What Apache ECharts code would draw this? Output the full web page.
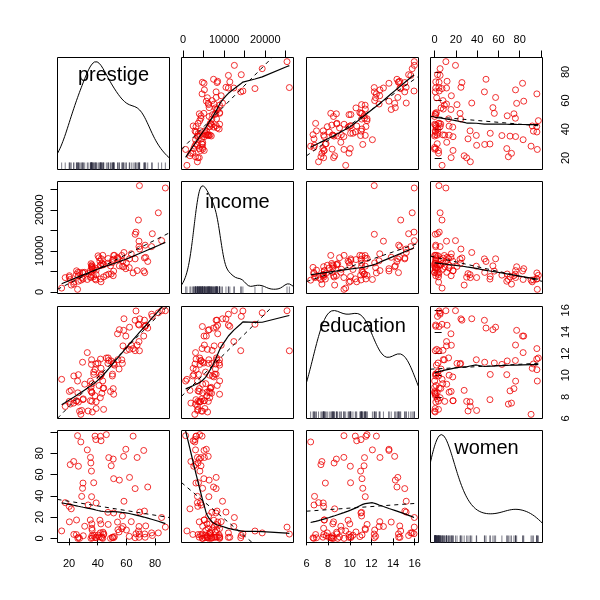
<!DOCTYPE html>
<html><head><meta charset="utf-8">
<script src="https://cdn.jsdelivr.net/npm/echarts@6/dist/echarts.min.js"></script>
<style>html,body{margin:0;padding:0;background:#fff}#c{width:600px;height:600px}</style>
</head><body><div id="c"></div>
<script>
// ---------------- data (Prestige, 102 occupations) ----------------
const varNames = ['prestige', 'income', 'education', 'women'];
const prestige = [68.8,69.1,63.4,56.8,73.5,77.6,72.6,78.1,73.1,68.8,62.0,60.0,53.8,62.2,74.9,55.1,82.3,58.1,58.3,72.8,84.6,59.6,66.1,87.2,66.7,68.4,64.7,34.9,72.1,69.3,67.5,57.2,57.6,54.1,46.0,41.9,49.4,42.3,47.7,30.9,32.7,38.7,36.1,37.2,38.1,29.4,51.1,35.7,35.6,41.5,40.2,26.5,14.8,23.3,47.3,47.1,51.1,43.5,51.6,29.7,20.2,54.9,25.9,20.8,17.3,20.1,44.1,21.5,35.3,38.9,25.2,34.8,23.2,33.3,28.8,42.5,44.2,35.9,41.8,35.9,43.7,50.8,37.2,28.2,38.1,50.3,27.3,40.9,50.2,51.1,38.9,36.2,29.9,42.9,26.5,66.1,48.9,35.9,25.1,26.1,42.2,35.2];
const income = [12351,25879,9271,8865,8403,11030,8258,14163,11377,11023,5902,7059,8425,8049,7405,6336,19263,6112,9593,4686,12480,5648,8034,25308,14558,17498,4614,3485,5092,10432,5180,6197,7562,8206,4036,3148,4348,2448,4330,4761,3016,2901,5511,3739,3161,4741,5052,6259,4075,7482,8780,2594,918,2370,8131,6992,7956,8895,8891,3116,3930,7869,611,3000,3472,3582,3643,1656,6860,4199,5134,5134,1890,4443,3485,8043,6686,6565,6477,5811,6573,3942,5449,2847,5795,7716,4696,8316,7147,8880,5299,5959,4549,6928,3910,14032,6337,6135,4224,4753,6462,3617];
const education = [13.11,12.26,12.77,11.42,14.62,15.64,15.09,15.44,14.52,14.64,12.39,12.30,13.83,14.44,14.36,14.21,15.77,14.15,15.22,14.50,15.97,13.62,15.08,15.96,15.94,14.71,12.46,9.45,13.62,15.21,12.79,11.09,12.71,11.44,11.59,11.49,11.32,10.64,11.36,9.17,12.09,11.04,9.22,10.07,10.51,11.20,11.13,11.43,11.00,9.84,11.13,10.05,9.62,9.93,11.60,11.09,11.03,9.47,10.93,7.74,8.50,10.57,9.46,7.33,7.11,7.58,6.84,8.60,8.88,7.54,7.64,7.64,7.42,6.69,6.74,10.09,8.81,8.40,7.92,8.43,8.78,8.76,10.29,6.38,8.10,10.10,6.67,9.05,9.93,8.24,6.92,6.60,7.81,8.33,7.52,12.27,8.49,7.58,7.60,8.37,10.00,8.55];
const women = [11.16,4.02,15.70,9.11,11.68,5.13,25.65,2.69,1.03,0.94,1.91,7.83,15.33,57.31,48.28,54.77,5.13,77.10,34.89,4.14,19.59,83.78,46.80,10.56,4.32,6.91,96.12,76.14,82.66,24.71,76.04,21.03,11.15,8.13,97.51,95.97,68.24,91.76,75.92,11.37,83.19,92.86,7.62,52.27,96.14,47.06,56.10,39.17,63.23,17.04,3.16,67.82,7.00,3.69,13.09,24.44,23.88,0.00,1.65,52.00,15.51,6.01,96.53,69.31,33.57,30.08,3.60,27.75,0.00,33.30,17.26,17.26,72.24,31.36,39.48,1.50,4.28,2.30,5.17,13.62,5.78,74.54,2.92,90.67,0.81,0.78,0.00,1.34,0.99,0.65,0.56,0.52,2.46,0.61,1.09,0.58,0.00,9.47,3.59,0.00,13.58,70.87];

const prestigeTicks = [20, 40, 60, 80];
const incomeTicks = [0, 5000, 10000, 15000, 20000, 25000];
const incomeTickLabels = [0, 10000, 20000];
const educationTicks = [6, 8, 10, 12, 14, 16];
const womenTicks = [0, 20, 40, 60, 80, 100];
const womenTickLabels = [0, 20, 40, 60, 80];

// ---------------- helpers ----------------
const vars = [prestige, income, education, women];
const tickSets = [prestigeTicks, incomeTicks, educationTicks, womenTicks];
const labelSets = [prestigeTicks, incomeTickLabels, educationTicks, womenTickLabels];
const SMOOTH_SPAN = 0.8;

function rng(a) { let mn = Infinity, mx = -Infinity; for (const v of a) { if (v < mn) mn = v; if (v > mx) mx = v; } return [mn, mx]; }
function ext(a) { const r = rng(a); const d = (r[1] - r[0]) * 0.04; return [r[0] - d, r[1] + d]; }
function mean(a) { let s = 0; for (const v of a) s += v; return s / a.length; }
function sd(a) { const m = mean(a); let s = 0; for (const v of a) s += (v - m) * (v - m); return Math.sqrt(s / (a.length - 1)); }
function q7(a, p) { const s = [...a].sort((x, y) => x - y); const h = (s.length - 1) * p; const lo = Math.floor(h); const hi = Math.min(lo + 1, s.length - 1); return s[lo] + (h - lo) * (s[hi] - s[lo]); }
function bwNrd0(x) { const hi = sd(x); let lo = Math.min(hi, (q7(x, .75) - q7(x, .25)) / 1.34); if (!(lo > 0)) lo = hi || 1; return 0.9 * lo * Math.pow(x.length, -0.2); }
// Gaussian kernel density, rescaled onto the variable's own range (as in car's diagonal panels)
function densityCurve(x) {
  const bw = bwNrd0(x); const r = rng(x); const from = r[0] - 3 * bw, to = r[1] + 3 * bw; const N = 512;
  const pts = [];
  for (let k = 0; k < N; k++) {
    const t = from + (to - from) * k / (N - 1); let s = 0;
    for (const v of x) { const z = (t - v) / bw; s += Math.exp(-0.5 * z * z); }
    pts.push([t, s / (x.length * bw * Math.sqrt(2 * Math.PI))]);
  }
  const dr = rng(pts.map(p => p[1]));
  return pts.map(p => [p[0], r[0] + p[1] * (r[1] - r[0]) / (dr[1] - dr[0])]);
}
function linfit(x, y) {
  const mx = mean(x), my = mean(y); let sxy = 0, sxx = 0;
  for (let i = 0; i < x.length; i++) { sxy += (x[i] - mx) * (y[i] - my); sxx += (x[i] - mx) * (x[i] - mx); }
  const b = sxy / sxx; return [my - b * mx, b];
}
// port of R's clowess (robust locally weighted regression)
function lowess(xIn, yIn, f, nsteps) {
  const n = xIn.length;
  const idx = xIn.map((v, i) => i).sort((a, b) => (xIn[a] - xIn[b]) || (a - b));
  const x = [0], y = [0];
  for (const i of idx) { x.push(xIn[i]); y.push(yIn[i]); }
  const delta = 0.01 * (x[n] - x[1]);
  const ys = new Array(n + 1).fill(0), rw = new Array(n + 1).fill(0), res = new Array(n + 1).fill(0);
  const ns = Math.max(2, Math.min(n, Math.floor(f * n + 1e-7)));
  function lowest(xs, nleft, nright, userw) {
    const range = x[n] - x[1];
    const h = Math.max(xs - x[nleft], x[nright] - xs);
    const h9 = 0.999 * h, h1 = 0.001 * h;
    let a = 0, j = nleft;
    while (j <= n) {
      res[j] = 0;
      const r = Math.abs(x[j] - xs);
      if (r <= h9) {
        if (r <= h1) res[j] = 1; else { const q = r / h; const c = 1 - q * q * q; res[j] = c * c * c; }
        if (userw) res[j] *= rw[j];
        a += res[j];
      } else if (x[j] > xs) break;
      j++;
    }
    const nrt = j - 1;
    if (a <= 0) return null;
    for (j = nleft; j <= nrt; j++) res[j] /= a;
    if (h > 0) {
      a = 0; for (j = nleft; j <= nrt; j++) a += res[j] * x[j];
      let b = xs - a, c = 0;
      for (j = nleft; j <= nrt; j++) c += res[j] * (x[j] - a) * (x[j] - a);
      if (Math.sqrt(c) > 0.001 * range) { b /= c; for (j = nleft; j <= nrt; j++) res[j] *= (b * (x[j] - a) + 1); }
    }
    let v = 0; for (j = nleft; j <= nrt; j++) v += res[j] * y[j];
    return v;
  }
  let iter = 1;
  while (iter <= nsteps + 1) {
    let nleft = 1, nright = ns, last = 0, i = 1;
    for (;;) {
      if (nright < n) {
        const d1 = x[i] - x[nleft], d2 = x[nright + 1] - x[i];
        if (d1 > d2) { nleft++; nright++; continue; }
      }
      const v = lowest(x[i], nleft, nright, iter > 1);
      ys[i] = (v === null) ? y[i] : v;
      if (last < i - 1) {
        const denom = x[i] - x[last];
        for (let j = last + 1; j < i; j++) { const al = (x[j] - x[last]) / denom; ys[j] = al * ys[i] + (1 - al) * ys[last]; }
      }
      last = i;
      const cut = x[last] + delta;
      for (i = last + 1; i <= n; i++) {
        if (x[i] > cut) break;
        if (x[i] === x[last]) { ys[i] = ys[last]; last = i; }
      }
      i = Math.max(last + 1, i - 1);
      if (last >= n) break;
    }
    for (let k = 1; k <= n; k++) res[k] = y[k] - ys[k];
    let sc = 0; for (let k = 1; k <= n; k++) sc += Math.abs(res[k]); sc /= n;
    if (iter > nsteps) break;
    const ar = []; for (let k = 1; k <= n; k++) ar.push(Math.abs(res[k]));
    ar.sort((a, b) => a - b);
    const m1 = Math.floor(n / 2);
    let cmad;
    if (n % 2 === 0) { const m2 = n - m1 - 1; cmad = 3 * (ar[m1] + ar[m2]); } else cmad = 6 * ar[m1];
    if (cmad < 1e-7 * sc) break;
    const c9 = 0.999 * cmad, c1 = 0.001 * cmad;
    for (let k = 1; k <= n; k++) {
      const r = Math.abs(res[k]);
      if (r <= c1) rw[k] = 1; else if (r <= c9) { const q = r / cmad; const u = 1 - q * q; rw[k] = u * u; } else rw[k] = 0;
    }
    iter++;
  }
  const out = []; for (let k = 1; k <= n; k++) out.push([x[k], ys[k]]);
  return out;
}

// ---------------- layout ----------------
const P0 = [57.5, 181.5, 306.5, 430.5];
const SIZE = 112;
const FONT = '"Liberation Sans", Arial, sans-serif';
const labelDy = [17.5, 20.5, 19.7, 18];
const ranges = vars.map(ext);
const grid = [], xAxis = [], yAxis = [], series = [], graphic = [];

function axisDef(dim, gi, vi, pos) {
  const r = ranges[vi];
  const ax = { type: 'value', gridIndex: gi, min: r[0], max: r[1], splitLine: { show: false }, axisLine: { show: false }, axisTick: { show: false }, axisLabel: { show: false } };
  if (pos) {
    ax.position = pos;
    ax.axisTick = { show: true, inside: false, length: 7, lineStyle: { color: '#000', width: 1 }, customValues: tickSets[vi] };
    const margin = { top: 12, bottom: 16, left: 12, right: 18 }[pos];
    ax.axisLabel = { show: true, customValues: labelSets[vi], margin: margin, fontSize: 11, color: '#000', fontFamily: FONT, rotate: dim === 'y' ? 90 : 0, formatter: v => String(v) };
  }
  return ax;
}
function addLine(gi, data, color, width, type, z) {
  series.push({ type: 'line', xAxisIndex: gi, yAxisIndex: gi, data, showSymbol: false, symbol: 'none', clip: true, silent: true, z, lineStyle: { color, width, type } });
}
for (let i = 0; i < 4; i++) {
  for (let j = 0; j < 4; j++) {
    const gi = i * 4 + j;
    grid.push({ left: P0[j], top: P0[i], width: SIZE, height: SIZE, show: true, borderColor: '#000', borderWidth: 1, backgroundColor: 'transparent', containLabel: false, outerBoundsMode: 'none' });
    let xpos = null, ypos = null;
    if (i === 0 && (j === 1 || j === 3)) xpos = 'top';
    if (i === 3 && (j === 0 || j === 2)) xpos = 'bottom';
    if (j === 0 && (i === 1 || i === 3)) ypos = 'left';
    if (j === 3 && (i === 0 || i === 2)) ypos = 'right';
    xAxis.push(axisDef('x', gi, j, xpos));
    yAxis.push(axisDef('y', gi, i, ypos));
    const X = vars[j], Y = vars[i];
    if (i === j) {
      addLine(gi, densityCurve(X), '#000', 1, 'solid', 3);
      series.push({ type: 'scatter', xAxisIndex: gi, yAxisIndex: gi, data: X.map(v => [v, ranges[i][0]]), symbol: 'rect', symbolSize: [1, 7], symbolOffset: [0, -3.5], clip: false, silent: true, z: 2, itemStyle: { color: 'rgba(40,40,60,0.75)' } });
      graphic.push({ type: 'text', x: P0[j] + SIZE / 2, y: P0[i] + labelDy[i], z: 10, style: { text: varNames[i], fontSize: 20, fontFamily: FONT, fill: '#000', align: 'center', verticalAlign: 'middle' } });
    } else {
      series.push({ type: 'scatter', xAxisIndex: gi, yAxisIndex: gi, data: X.map((v, k) => [v, Y[k]]), symbol: 'circle', symbolSize: 6, clip: true, silent: true, z: 2, itemStyle: { color: 'transparent', borderColor: '#ee0000', borderWidth: 1 } });
      const [a, b] = linfit(X, Y); const xr = ranges[j];
      addLine(gi, [[xr[0], a + b * xr[0]], [xr[1], a + b * xr[1]]], '#000', 1, [4, 4], 3);
      addLine(gi, lowess(X, Y, SMOOTH_SPAN, 3), '#000', 1.2, 'solid', 4);
    }
  }
}
const chart = echarts.init(document.getElementById('c'), null, { renderer: 'canvas' });
chart.setOption({ animation: false, backgroundColor: '#fff', grid, xAxis, yAxis, series, graphic, tooltip: { show: false } });
</script>
</body></html>
